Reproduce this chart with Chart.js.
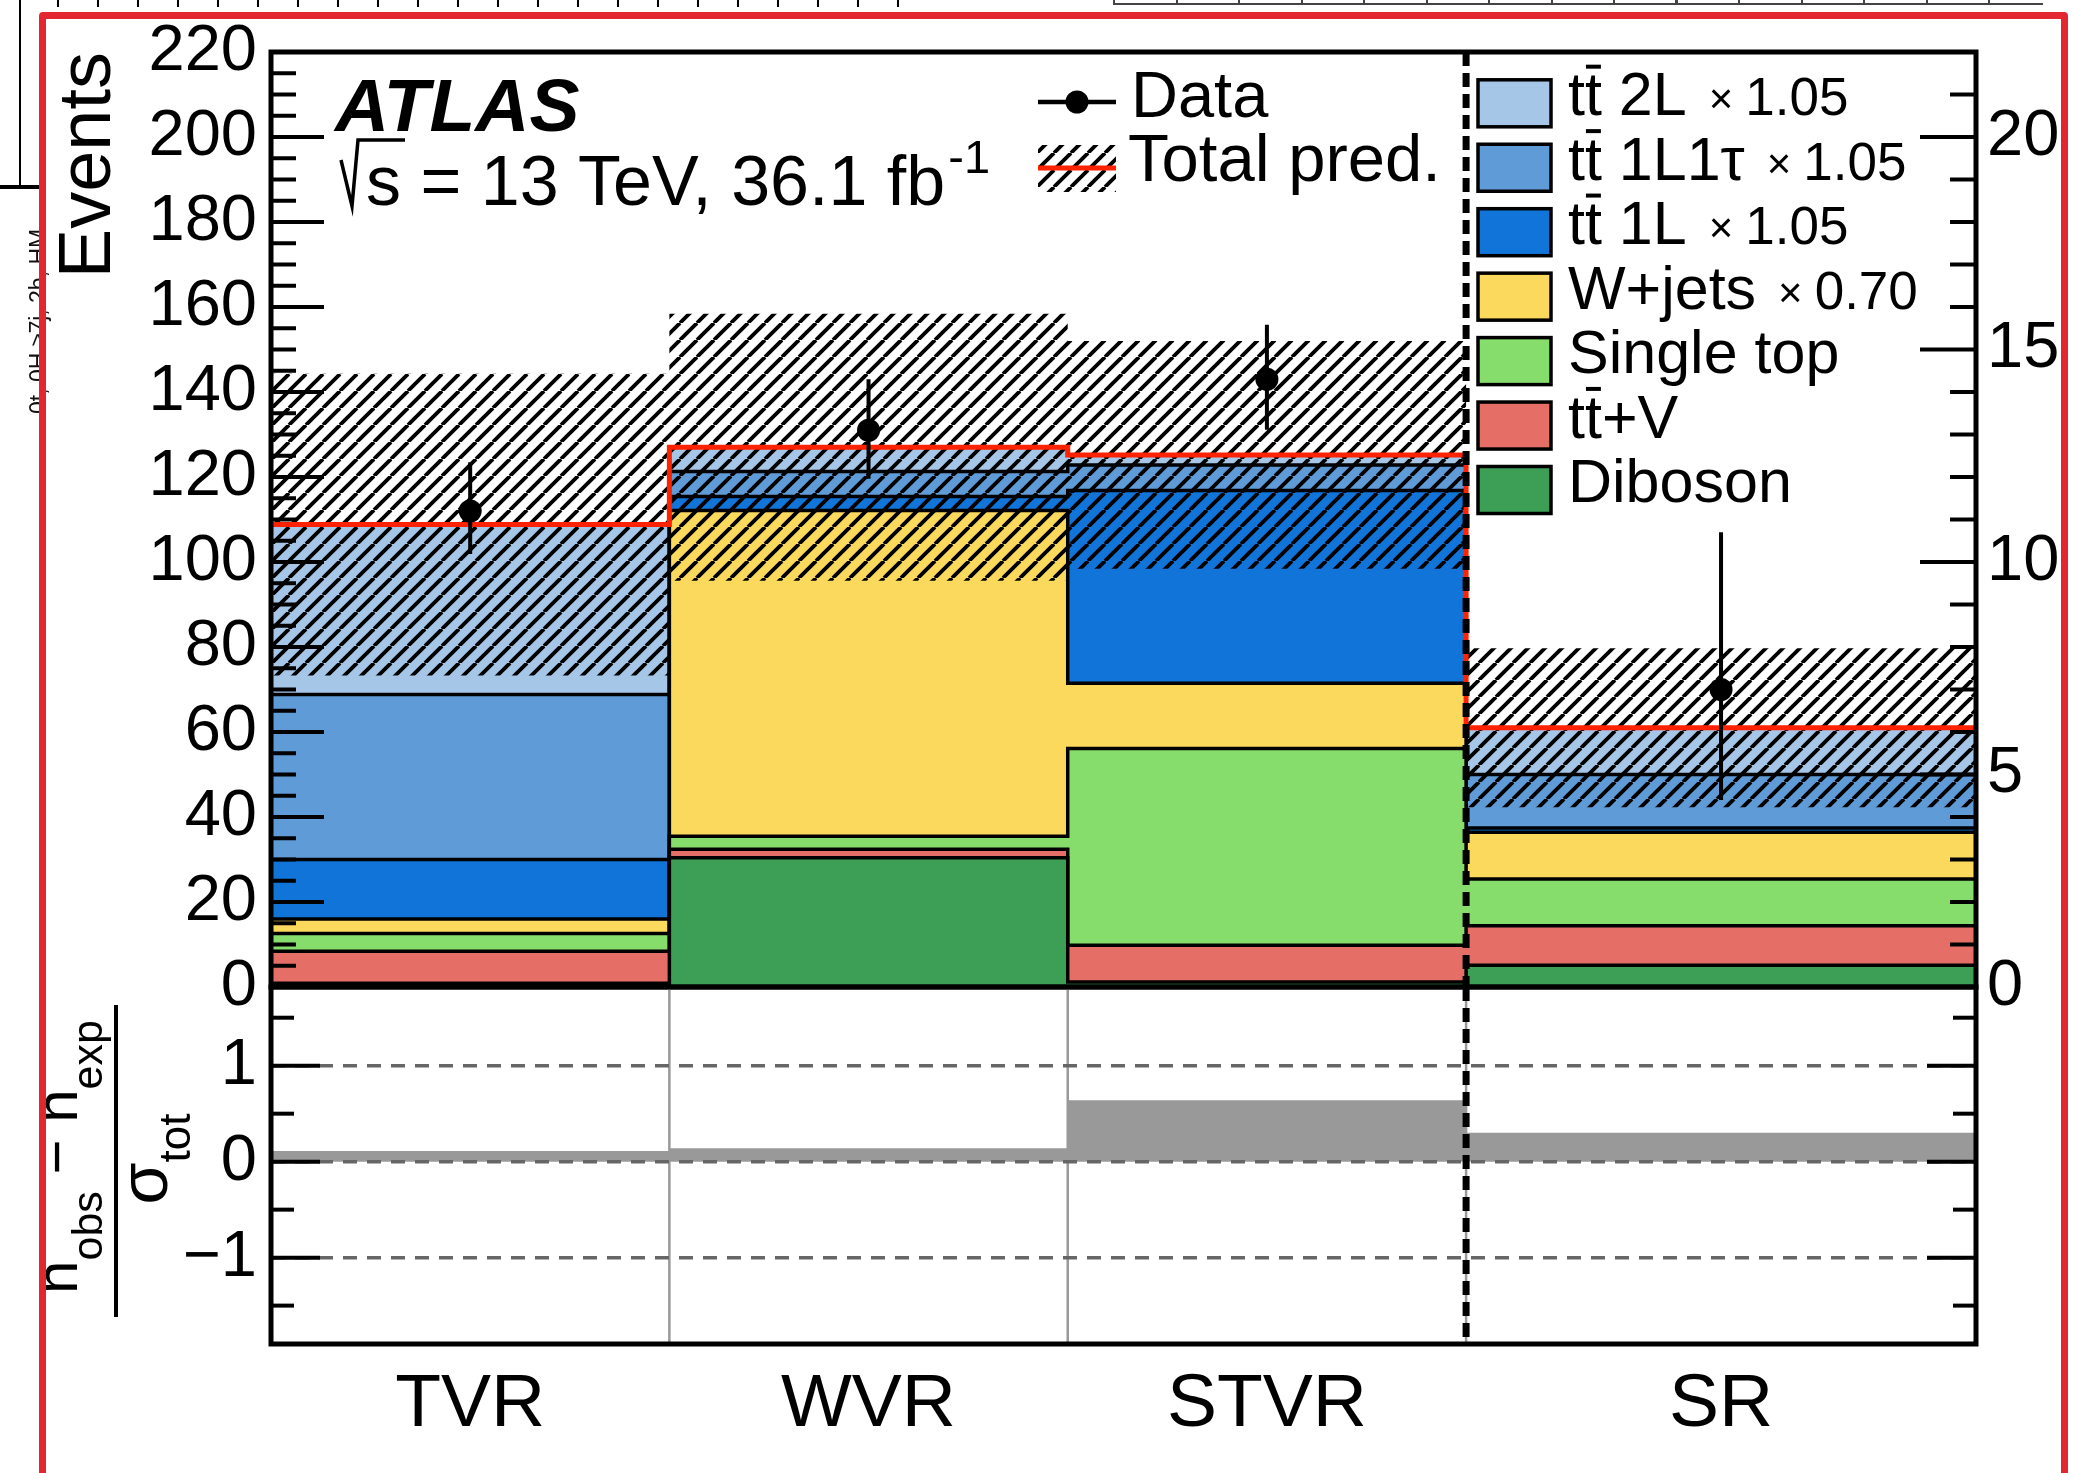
<!DOCTYPE html>
<html>
<head>
<meta charset="utf-8">
<script src="https://cdn.jsdelivr.net/npm/chart.js@4.4.1/dist/chart.umd.min.js"></script>
<style>
  html, body { margin: 0; padding: 0; background: #fff; }
  body { width: 2074px; height: 1473px; position: relative; overflow: hidden; }
  canvas { position: absolute; left: 0; }
  #main { top: 0; }
  #pull { top: 960px; }
  .frame { position: absolute; left: 39px; top: 12px; width: 2015px; height: 1500px;
           border: 7px solid #e3262f; border-radius: 4px; pointer-events: none; }
  .bits { position: absolute; pointer-events: none; }
  .side { position: absolute; left: 25px; top: 414px; transform-origin: 0 0; transform: rotate(-90deg);
          font: 23px 'Liberation Sans', Arial, sans-serif; white-space: nowrap; color: #111; }
</style>
</head>
<body>
<canvas id="main" width="2074" height="1040"></canvas>
<canvas id="pull" width="2074" height="513"></canvas>
<!-- pieces of the neighbouring figure, outside the red box -->
<div class="bits" style="left:57px;top:0;width:850px;height:7px;background:repeating-linear-gradient(to right,#000 0 2px,transparent 2px 40px)"></div>
<div class="bits" style="left:1113px;top:0;width:930px;height:3px;border-bottom:2px solid #444;background:repeating-linear-gradient(to right,#444 0 2px,transparent 2px 62.5px)"></div>
<div class="bits" style="left:19px;top:0;width:2px;height:187px;background:#000"></div>
<div class="bits" style="left:0;top:185px;width:40px;height:4px;background:#000"></div>
<div class="side">0t, 0H ≥7j, 2b, HM</div>
<div class="frame"></div>
<script>
// regions; the SR bin is read against the right axis (x10 scale)
const categories = ['TVR', 'WVR', 'STVR', 'SR'];
const binEdges = [0, 1, 2, 3, 4.28];
const srScale = 10;

// predicted events per region, bottom of the stack first
const diboson   = [0.9, 30.4, 1.2, 0.51];
const ttV       = [7.5, 2.0, 8.6, 0.93];
const singleTop = [4.2, 3.1, 46.3, 1.10];
const wJets     = [3.4, 76.6, 15.4, 1.10];
const tt1L      = [14.0, 3.3, 45.3, 0.10];
const tt1L1tau  = [38.8, 5.9, 6.0, 1.26];
const tt2L      = [40.0, 5.7, 2.4, 1.10];

const totalPred = [108.8, 127.0, 125.2, 6.10];
const totalUnc  = [35.5, 31.4, 26.8, 1.87];

const dataObs = [112, 131, 143, 7];
const dataHi  = [123.5, 143.0, 155.8, 10.7];
const dataLo  = [101.9, 119.6, 131.1, 4.4];

const pull = [0.11, 0.14, 0.64, 0.30];

const mainTicks = [0, 20, 40, 60, 80, 100, 120, 140, 160, 180, 200, 220];
const srTicks = [0, 5, 10, 15, 20];
const pullTicks = [-1, 0, 1];

const procNames   = ['Diboson', 'tt\u0304+V', 'Single top', 'W+jets', 'tt\u0304 1L', 'tt\u0304 1L1\u03c4', 'tt\u0304 2L'];
const procFactors = ['', '', '', '0.70', '1.05', '1.05', '1.05'];
const procValues  = [diboson, ttV, singleTop, wJets, tt1L, tt1L1tau, tt2L];
const procColors  = ['#3d9e55', '#e56f67', '#87dd6b', '#fbd95d', '#1174d9', '#5f9bd7', '#a6c6e8'];

const F = "'Liberation Sans', Arial, Helvetica, sans-serif";
const RED = '#ff2200';
Chart.defaults.font.family = F;
Chart.defaults.color = '#000';

const last = categories.length - 1;
const xMax = binEdges[binEdges.length - 1];
const toAxis = vals => vals.map((v, i) => (i === last ? v * srScale : v));
const steps = vals => {
  const v = toAxis(vals);
  return binEdges.map((x, i) => ({ x, y: v[Math.min(i, last)] }));
};
const centers = categories.map((_, i) => (binEdges[i] + binEdges[i + 1]) / 2);

const hatch = (() => {
  const s = 17, c = document.createElement('canvas');
  c.width = s; c.height = s;
  const g = c.getContext('2d');
  g.strokeStyle = '#000'; g.lineWidth = 3.8;
  for (const k of [-1, 0, 1]) {
    g.beginPath(); g.moveTo(k * s, s); g.lineTo(k * s + s, 0); g.stroke();
  }
  return g.createPattern(c, 'repeat');
})();

const NONE = 'rgba(0,0,0,0)';
const stackSets = procValues.map((vals, i) => ({
  data: steps(vals), stack: 'bkg', order: 10, stepped: 'before',
  fill: i === 0 ? 'origin' : '-1', backgroundColor: procColors[i],
  borderColor: '#000', borderWidth: 3.5, pointRadius: 0
}));
const bandLo = totalPred.map((t, i) => t - totalUnc[i]);
const bandHi = totalPred.map((t, i) => t + totalUnc[i]);
const errPts = categories.flatMap((_, i) => {
  const s = i === last ? srScale : 1;
  return [{ x: centers[i], y: dataLo[i] * s }, { x: centers[i], y: dataHi[i] * s }, { x: centers[i], y: null }];
});
const obsPts = toAxis(dataObs).map((y, i) => ({ x: centers[i], y }));

// no extra room for the end labels, the layout padding places the plot
const fixY = w => s => { s.width = w; s.paddingTop = 0; s.paddingBottom = 0; };

function drawTicks(ctx, chart, id, majors, step, side, lenMajor, lenMinor) {
  const sc = chart.scales[id], a = chart.chartArea;
  const x0 = side === 'left' ? a.left : a.right, dir = side === 'left' ? 1 : -1;
  ctx.save();
  ctx.strokeStyle = '#000'; ctx.lineWidth = 4;
  for (let k = Math.ceil(sc.min / step - 1e-9); k * step <= sc.max + 1e-9; k++) {
    const v = k * step;
    const big = majors.some(m => Math.abs(m - v) < 1e-6);
    const y = sc.getPixelForValue(v);
    ctx.beginPath(); ctx.moveTo(x0, y); ctx.lineTo(x0 + dir * (big ? lenMajor : lenMinor), y); ctx.stroke();
  }
  ctx.restore();
}

function drawFrame(ctx, a) {
  ctx.save(); ctx.strokeStyle = '#000'; ctx.lineWidth = 5;
  ctx.strokeRect(a.left, a.top, a.right - a.left, a.bottom - a.top);
  ctx.restore();
}

function drawSplit(ctx, chart) {
  const a = chart.chartArea, x = chart.scales.x.getPixelForValue(binEdges[3]);
  ctx.save(); ctx.strokeStyle = '#000'; ctx.lineWidth = 7; ctx.setLineDash([14, 7]);
  ctx.beginPath(); ctx.moveTo(x, a.top); ctx.lineTo(x, a.bottom); ctx.stroke();
  ctx.restore();
}

// label with a ttbar prefix: second t gets an overline
function drawName(ctx, name, x, y, size) {
  ctx.font = `${size}px ${F}`;
  if (name.startsWith('tt\u0304')) {
    const wt = ctx.measureText('t').width;
    ctx.fillText('tt', x, y);
    ctx.fillRect(x + wt + 1, y - 0.83 * size, wt - 2, 4);
    name = name.slice(3);
    x += 2 * wt;
  }
  ctx.fillText(name, x, y);
  return x + ctx.measureText(name).width;
}

const mainDecor = {
  id: 'mainDecor',
  afterDraw(chart) {
    const ctx = chart.ctx, a = chart.chartArea;
    drawSplit(ctx, chart);
    drawTicks(ctx, chart, 'y', mainTicks, 5, 'left', 53, 25);
    drawTicks(ctx, chart, 'y2', srTicks, 1, 'right', 56, 26);
    drawFrame(ctx, a);

    ctx.save();
    ctx.fillStyle = '#000'; ctx.strokeStyle = '#000'; ctx.textBaseline = 'alphabetic';
    ctx.font = `italic bold 75px ${F}`;
    ctx.fillText('ATLAS', 335, 131);
    ctx.lineWidth = 3.5;
    ctx.beginPath(); ctx.moveTo(341, 160); ctx.lineTo(352, 206); ctx.lineTo(358, 140); ctx.lineTo(405, 140); ctx.stroke();
    ctx.font = `70px ${F}`;
    ctx.fillText('s = 13 TeV, 36.1 fb', 366, 205);
    const w = ctx.measureText('s = 13 TeV, 36.1 fb').width;
    ctx.font = `47px ${F}`;
    ctx.fillText('-1', 366 + w + 3, 173);

    // left legend column
    ctx.lineWidth = 4.5;
    ctx.beginPath(); ctx.moveTo(1038, 102); ctx.lineTo(1116, 102); ctx.stroke();
    ctx.beginPath(); ctx.arc(1077, 102, 11.5, 0, Math.PI * 2); ctx.fill();
    ctx.font = `65px ${F}`;
    ctx.fillText('Data', 1131, 117);
    ctx.fillStyle = hatch; ctx.fillRect(1038, 145, 78, 47);
    ctx.strokeStyle = RED; ctx.lineWidth = 5;
    ctx.beginPath(); ctx.moveTo(1038, 168); ctx.lineTo(1116, 168); ctx.stroke();
    ctx.fillStyle = '#000';
    ctx.font = `67px ${F}`;
    ctx.fillText('Total pred.', 1128, 181);

    // right legend column, top of the stack first
    ctx.strokeStyle = '#000'; ctx.lineWidth = 3.5;
    for (let j = 0; j < procNames.length; j++) {
      const i = procNames.length - 1 - j, cy = 103.3 + 64.45 * j;
      ctx.fillStyle = procColors[i]; ctx.fillRect(1478, cy - 23.5, 73, 47);
      ctx.strokeRect(1478, cy - 23.5, 73, 47);
      ctx.fillStyle = '#000';
      const x = drawName(ctx, procNames[i], 1568, cy + 12, 61);
      if (procFactors[i]) {
        ctx.font = `42px ${F}`;
        ctx.fillText('\u00d7', x + 22, cy + 10);
        const wx = ctx.measureText('\u00d7').width;
        ctx.font = `53px ${F}`;
        ctx.fillText(procFactors[i], x + 22 + wx + 12, cy + 12);
      }
    }
    ctx.restore();
  }
};

const pullDecor = {
  id: 'pullDecor',
  beforeDatasetsDraw(chart) {
    const ctx = chart.ctx, a = chart.chartArea;
    ctx.save(); ctx.strokeStyle = '#999'; ctx.lineWidth = 2.5;
    binEdges.slice(1, -1).forEach(e => {
      const x = chart.scales.x.getPixelForValue(e);
      ctx.beginPath(); ctx.moveTo(x, a.top); ctx.lineTo(x, a.bottom); ctx.stroke();
    });
    ctx.restore();
  },
  afterDraw(chart) {
    const ctx = chart.ctx, a = chart.chartArea;
    drawSplit(ctx, chart);
    drawTicks(ctx, chart, 'y', pullTicks, 0.5, 'left', 49, 23);
    drawTicks(ctx, chart, 'y', pullTicks, 0.5, 'right', 49, 23);
    drawFrame(ctx, a);

    // (n_obs - n_exp) / sigma_tot, written upwards
    const parts = (ctx, segs) => {
      let w = 0;
      segs.forEach(s => { ctx.font = `${s[1]}px ${F}`; w += ctx.measureText(s[0]).width; });
      let u = -w / 2;
      segs.forEach(s => { ctx.font = `${s[1]}px ${F}`; ctx.fillText(s[0], u, s[2]); u += ctx.measureText(s[0]).width; });
    };
    ctx.save(); ctx.fillStyle = '#000';
    ctx.save(); ctx.translate(77, 197); ctx.rotate(-Math.PI / 2);
    parts(ctx, [['n', 60, 0], ['obs', 43, 25], [' \u2212 ', 60, 0], ['n', 60, 0], ['exp', 43, 25]]);
    ctx.restore();
    ctx.fillRect(114, 45, 4, 312);
    ctx.save(); ctx.translate(167, 199); ctx.rotate(-Math.PI / 2);
    parts(ctx, [['\u03c3', 68, 0], ['tot', 44, 23]]);
    ctx.restore();
    ctx.restore();
  }
};

const common = {
  responsive: false, animation: false, devicePixelRatio: 1, events: [],
  plugins: { legend: { display: false }, tooltip: { enabled: false } }
};

new Chart(document.getElementById('main'), {
  type: 'line',
  data: {
    datasets: [
      ...stackSets,
      { data: steps(bandLo), stack: 'lo', order: 4, stepped: 'before', borderColor: NONE, pointRadius: 0, fill: false },
      { data: steps(bandHi), stack: 'hi', order: 3, stepped: 'before', borderColor: NONE, pointRadius: 0,
        fill: { target: procValues.length }, backgroundColor: hatch },
      { data: steps(totalPred), stack: 'tot', order: 2, stepped: 'before', borderColor: RED, borderWidth: 5, pointRadius: 0, fill: false },
      { data: errPts, stack: 'err', order: 1, borderColor: '#000', borderWidth: 4, pointRadius: 0, spanGaps: false, fill: false },
      { data: obsPts, stack: 'obs', order: 0, showLine: false, pointRadius: 11.5, pointBackgroundColor: '#000', pointBorderWidth: 0 }
    ]
  },
  options: {
    ...common,
    layout: { padding: { top: 52, bottom: 53, left: 0, right: 0 } },
    scales: {
      x: { type: 'linear', min: 0, max: xMax, display: false },
      y: {
        stacked: true, min: 0, max: 220, position: 'left',
        afterFit: fixY(271),
        afterBuildTicks: s => { s.ticks = mainTicks.map(value => ({ value })); },
        grid: { display: false, drawTicks: false }, border: { display: false },
        ticks: { padding: 14, font: { size: 65 }, color: '#000' },
        title: { display: true, text: 'Events', align: 'end', color: '#000', font: { size: 74 }, padding: { top: 45, bottom: 0 } }
      },
      y2: {
        min: 0, max: 22, position: 'right',
        afterFit: fixY(98),
        afterBuildTicks: s => { s.ticks = srTicks.map(value => ({ value })); },
        grid: { display: false, drawTicks: false }, border: { display: false },
        ticks: { padding: 11, font: { size: 65 }, color: '#000' }
      }
    }
  },
  plugins: [mainDecor]
});

new Chart(document.getElementById('pull'), {
  type: 'line',
  data: {
    datasets: [
      { data: steps(pull.map((p, i) => (i === last ? p / srScale : p))), stepped: 'before', fill: 'origin',
        backgroundColor: '#999999', borderColor: NONE, pointRadius: 0 }
    ]
  },
  options: {
    ...common,
    layout: { padding: { top: 27, bottom: 0, left: 0, right: 98 } },
    scales: {
      x: {
        type: 'linear', min: 0, max: xMax,
        afterFit: s => { s.height = 129; s.paddingLeft = 0; s.paddingRight = 0; },
        afterBuildTicks: s => { s.ticks = centers.map(value => ({ value })); },
        grid: { display: false, drawTicks: false }, border: { display: false },
        ticks: { callback: (v, i) => categories[i], padding: 16, autoSkip: false, maxRotation: 0,
                 font: { size: 75 }, color: '#000' }
      },
      y: {
        min: -1.9, max: 1.82,
        afterFit: fixY(271),
        afterBuildTicks: s => { s.ticks = pullTicks.map(value => ({ value })); },
        grid: { color: '#666', lineWidth: 3.5, drawTicks: false, z: 1 },
        border: { display: false, dash: [14, 10] },
        ticks: { padding: 14, font: { size: 65 }, color: '#000',
                 callback: v => (v < 0 ? '\u2212' + (-v) : String(v)) }
      }
    }
  },
  plugins: [pullDecor]
});
</script>
</body>
</html>
